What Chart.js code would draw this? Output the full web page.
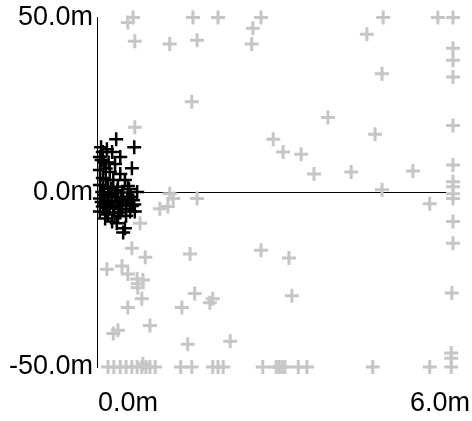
<!DOCTYPE html>
<html>
<head>
<meta charset="utf-8">
<script src="https://cdn.jsdelivr.net/npm/chart.js@4/dist/chart.umd.min.js"></script>
<style>
  html, body { margin: 0; padding: 0; background: #fff; }
  #wrap { width: 472px; height: 421px; }
</style>
</head>
<body>
<div id="wrap"><canvas id="c" width="472" height="421"></canvas></div>
<script>
// Axis ticks (metres)
const xTicks = [0, 6];
const yTicks = [-50, 0, 50];

// Highlighted group (black crosses)
const blackX = [0.33, 0.07, 0.17, 0.64, 0.26, 0.05, 0.40, 0.12, 0.31, 0.60, 0.05, 0.22, 0.40, 0.10, 0.28, 0.48,
  0.05, 0.19, 0.36, 0.53, 0.69, 0.09, 0.26, 0.43, 0.58, 0.05, 0.19, 0.34, 0.50, 0.64, 0.10, 0.28,
  0.43, 0.57, 0.05, 0.19, 0.36, 0.50, 0.65, 0.26, 0.34, 0.48, 0.45, 0.12, 0.15, 0.31, 0.22, 0.41,
  0.12, 0.24, 0.38, 0.52, 0.60, 0.15, 0.30, 0.45, 0.20, 0.35, 0.55, 0.08, 0.40, 0.25, 0.62, 0.14,
  0.08, 0.15, 0.10, 0.20];
const blackY = [15.2, 12.9, 12.3, 12.9, 11.5, 10.1, 10.1, 8.6, 8.1, 6.9, 6.4, 5.8, 5.2, 4.1, 3.5, 3.5,
  2.1, 1.6, 1.6, 1.8, 0.1, 0.1, -0.4, -0.1, -1.3, -1.8, -2.4, -2.7, -3.0, -3.5, -4.1, -4.7,
  -4.7, -5.5, -5.5, -6.4, -6.9, -6.7, -5.5, -8.4, -8.9, -10.3, -11.5, -3.3, 3.5, -1.3, -4.1, -1.6,
  -0.8, 1.0, -3.8, -1.9, -3.9, -5.8, -6.0, -2.2, -1.2, 0.6, 0.9, -2.8, -5.8, -3.0, -2.3, -7.5,
  9.2, 6.8, 11.5, 8.5];

// Background group (grey crosses)
const greyX = [0.62, 0.53, 1.65, 2.08, 2.82, 4.92, 5.86, 6.12,
  0.65, 1.25, 1.72, 2.68, 2.66, 4.64, 6.12, 6.12, 6.12, 4.90, 1.63, 3.97, 6.12, 0.65, 4.78, 3.03,
  3.20, 3.51, 3.73, 4.37, 5.43, 6.12, 6.12, 6.12, 6.12, 6.12, 4.90, 5.72, 6.12, 6.12, 2.82, 3.30,
  3.35, 6.10,
  1.25, 1.31, 1.22, 1.08, 1.72, 0.74, 0.60, 0.83, 1.60,
  0.17, 0.43, 0.53, 0.69, 0.79, 0.70, 0.70, 0.77, 0.53, 1.68, 1.99, 1.94, 1.46, 0.91, 0.36, 0.28,
  1.56, 2.29,
  0.19, 0.29, 0.40, 0.50, 0.60, 0.69, 0.77, 0.84, 0.91, 1.00, 0.79, 1.44, 1.63, 1.99, 2.08, 2.17,
  2.85, 3.08, 3.13, 3.18, 3.23, 3.46, 3.61, 4.74, 5.72, 6.09, 6.09, 6.09];
const greyY = [50, 48.6, 50, 50, 50, 50, 50, 50,
  43.2, 42.4, 43.5, 46.9, 42.4, 45.2, 41.2, 37.8, 33.0, 33.9, 25.9, 21.4, 19.1, 18.6, 16.6, 15.2,
  11.5, 10.9, 5.2, 5.8, 6.1, 7.8, 3.0, 1.6, -0.4, -1.8, 0.7, -3.3, -8.4, -14.6, -16.6, -18.8,
  -29.6, -28.8,
  -0.4, -1.8, -4.1, -4.7, -1.8, -8.9, -16.0, -18.6, -17.7,
  -22.0, -21.1, -23.4, -24.8, -25.1, -26.2, -27.3, -30.5, -33.0, -29.0, -30.5, -31.6, -33.0, -38.1, -39.5, -40.4,
  -43.5, -42.6,
  -50, -50, -50, -50, -50, -50, -50, -50, -50, -50, -49.1, -50, -50, -50, -50, -50,
  -50, -50, -50, -50, -50, -50, -50, -50, -50, -50, -47.5, -46.0];

const toPoints = (xs, ys) => xs.map((x, i) => ({ x, y: ys[i] }));
const fmt = v => Number(v).toFixed(1) + 'm';
const labelFont = { family: '"Liberation Sans", Arial, sans-serif', size: 27, lineHeight: 1 };

// End labels for the horizontal axis: first flush left at its tick, last flush with the right edge
const xEndLabels = {
  id: 'xEndLabels',
  afterDraw(chart) {
    const { ctx } = chart;
    const xs = chart.scales.x;
    const y = chart.chartArea.bottom + 37;
    ctx.save();
    ctx.font = `${labelFont.size}px ${labelFont.family}`;
    ctx.fillStyle = '#000';
    ctx.textBaseline = 'middle';
    ctx.textAlign = 'left';
    ctx.fillText(fmt(xTicks[0]), xs.getPixelForValue(xTicks[0]) + 1, y);
    ctx.textAlign = 'right';
    ctx.fillText(fmt(xTicks[xTicks.length - 1]), chart.width - 2, y);
    ctx.restore();
  }
};

new Chart(document.getElementById('c'), {
  type: 'scatter',
  data: {
    datasets: [
      {
        data: toPoints(blackX, blackY),
        pointStyle: 'cross', pointRadius: 7, pointHoverRadius: 7,
        borderColor: '#000', backgroundColor: '#000', pointBorderWidth: 2.5, borderWidth: 2.5,
        clip: false, order: 0
      },
      {
        data: toPoints(greyX, greyY),
        pointStyle: 'cross', pointRadius: 7, pointHoverRadius: 7,
        borderColor: '#c6c6c6', backgroundColor: '#c6c6c6', pointBorderWidth: 3, borderWidth: 3,
        clip: false, order: 1
      }
    ]
  },
  options: {
    responsive: false,
    animation: false,
    events: [],
    layout: { padding: { top: 14, right: 26, left: 0, bottom: 0 } },
    plugins: { legend: { display: false }, tooltip: { enabled: false } },
    scales: {
      x: {
        type: 'linear', min: xTicks[0], max: xTicks[xTicks.length - 1],
        grid: { display: false },
        border: { display: false },
        ticks: { display: false },
        afterFit: s => { s.height = 54; }
      },
      y: {
        type: 'linear', min: yTicks[0], max: yTicks[yTicks.length - 1],
        afterBuildTicks: s => { s.ticks = yTicks.map(v => ({ value: v })); },
        grid: {
          drawTicks: false,
          lineWidth: 1,
          color: c => (c.tick && c.tick.value === 0 ? '#000' : 'rgba(0,0,0,0)')
        },
        border: { display: true, color: '#000', width: 1 },
        ticks: { color: '#000', font: labelFont, padding: 4, callback: v => fmt(v) },
        afterFit: s => { s.width = 97; }
      }
    }
  },
  plugins: [xEndLabels]
});
</script>
</body>
</html>
